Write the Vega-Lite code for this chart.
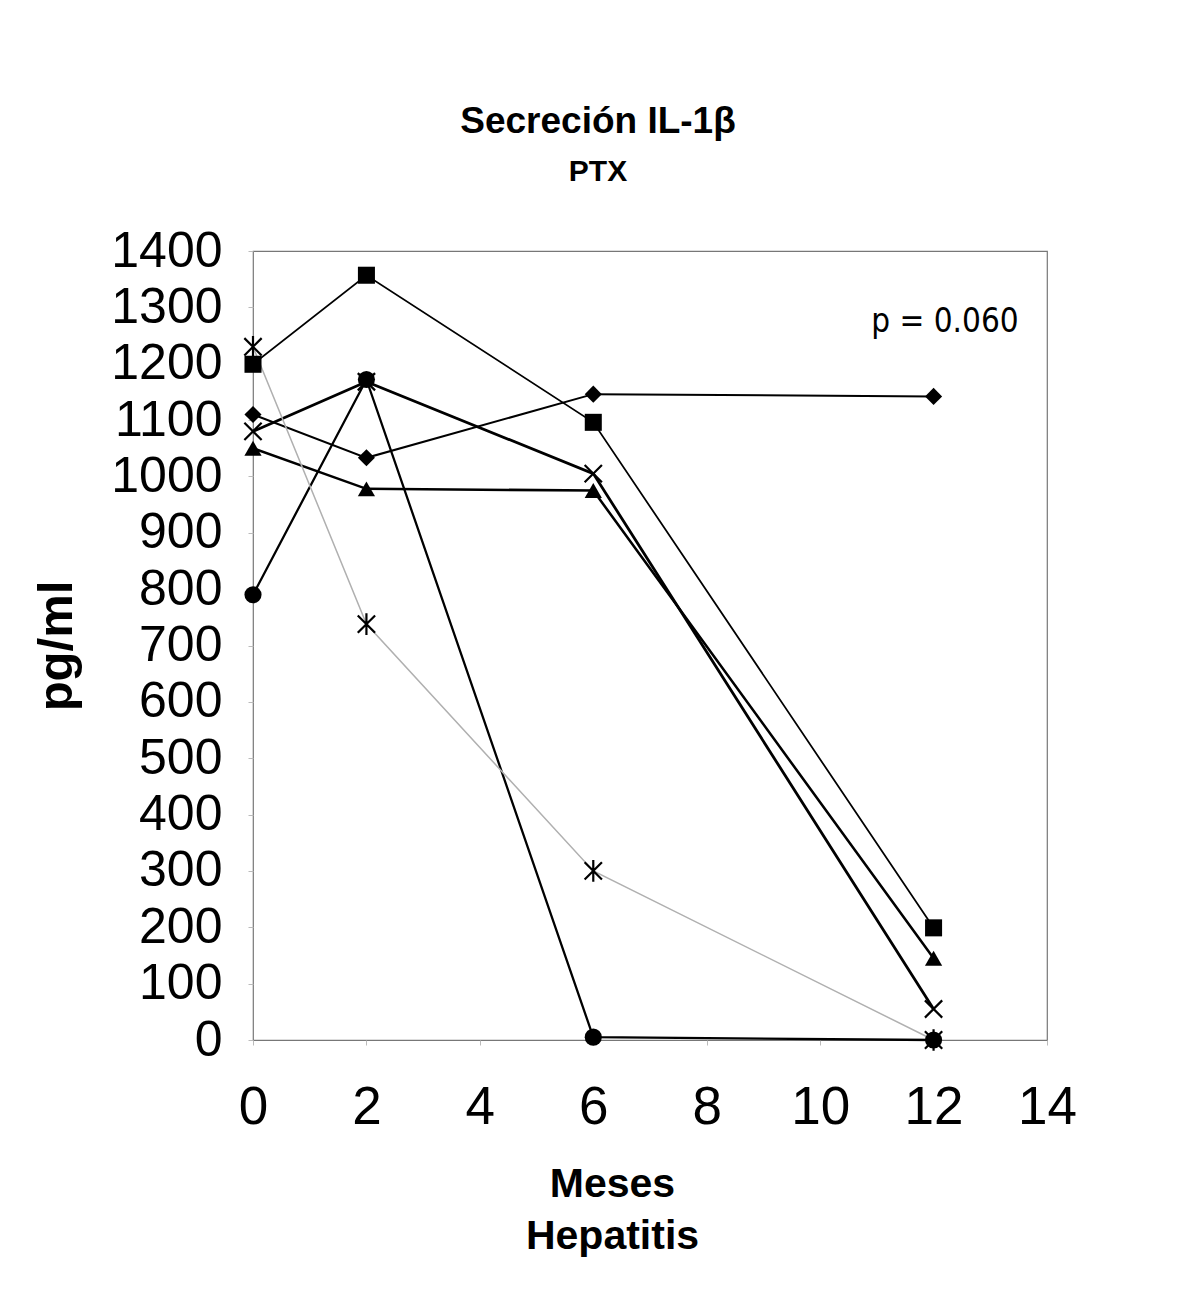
{
  "$schema": "https://vega.github.io/schema/vega-lite/v6.json",
  "width": 794,
  "height": 789,
  "autosize": "none",
  "padding": {"left": 253, "top": 251, "right": 135, "bottom": 249},
  "background": "white",
  "title": {
    "text": "Secreción IL-1β",
    "subtitle": "PTX",
    "font": "Liberation Sans",
    "fontSize": 37,
    "fontWeight": "bold",
    "color": "black",
    "subtitleFont": "Liberation Sans",
    "subtitleFontSize": 30,
    "subtitleFontWeight": "bold",
    "subtitleColor": "black",
    "subtitlePadding": 16,
    "anchor": "middle",
    "dx": -52,
    "offset": 38
  },
  "config": {
    "view": {"stroke": "#777", "strokeWidth": 1.2},
    "axis": {
      "domain": false,
      "grid": false,
      "labelFont": "Liberation Sans",
      "labelColor": "black",
      "labelOverlap": false,
      "labelFlush": false,
      "labelBound": false,
      "tickColor": "#bbb",
      "tickSize": 5,
      "titleFont": "Liberation Sans",
      "titleFontWeight": "bold",
      "titleColor": "black"
    }
  },
  "datasets": {
    "series": [
      {"serie": "cuadrado", "mes": 0, "valor": 1199},
      {"serie": "cuadrado", "mes": 2, "valor": 1357},
      {"serie": "cuadrado", "mes": 6, "valor": 1096},
      {"serie": "cuadrado", "mes": 12, "valor": 199},
      {"serie": "rombo", "mes": 0, "valor": 1110},
      {"serie": "rombo", "mes": 2, "valor": 1033},
      {"serie": "rombo", "mes": 6, "valor": 1146},
      {"serie": "rombo", "mes": 12, "valor": 1142},
      {"serie": "circulo", "mes": 0, "valor": 790},
      {"serie": "circulo", "mes": 2, "valor": 1172},
      {"serie": "circulo", "mes": 6, "valor": 5},
      {"serie": "circulo", "mes": 12, "valor": 0},
      {"serie": "triangulo", "mes": 0, "valor": 1050},
      {"serie": "triangulo", "mes": 2, "valor": 978},
      {"serie": "triangulo", "mes": 6, "valor": 975},
      {"serie": "triangulo", "mes": 12, "valor": 145},
      {"serie": "equis", "mes": 0, "valor": 1080},
      {"serie": "equis", "mes": 2, "valor": 1168},
      {"serie": "equis", "mes": 6, "valor": 1005},
      {"serie": "equis", "mes": 12, "valor": 55},
      {"serie": "asterisco", "mes": 0, "valor": 1230},
      {"serie": "asterisco", "mes": 2, "valor": 738},
      {"serie": "asterisco", "mes": 6, "valor": 300},
      {"serie": "asterisco", "mes": 12, "valor": 0}
    ],
    "nota": [
      {"texto": "p = 0.060", "mes": 12.2, "valor": 1256}
    ]
  },
  "data": {"name": "series"},
  "layer": [
    {
      "mark": {"type": "line"},
      "encoding": {
        "x": {
          "field": "mes", "type": "quantitative",
          "scale": {"domain": [0, 14], "nice": false},
          "axis": {
            "values": [0, 2, 4, 6, 8, 10, 12, 14],
            "format": "d",
            "labelFontSize": 53,
            "labelPadding": 36,
            "title": ["Meses", "Hepatitis"],
            "titleFontSize": 41,
            "titleLineHeight": 52,
            "titlePadding": 30,
            "titleX": 359
          }
        },
        "y": {
          "field": "valor", "type": "quantitative",
          "scale": {"domain": [0, 1400], "nice": false},
          "axis": {
            "values": [0, 100, 200, 300, 400, 500, 600, 700, 800, 900, 1000, 1100, 1200, 1300, 1400],
            "format": "d",
            "labelFontSize": 50,
            "labelPadding": 26,
            "title": "pg/ml",
            "titleFontSize": 49,
            "titlePadding": 29
          }
        },
        "color": {
          "field": "serie", "type": "nominal",
          "scale": {
            "domain": ["asterisco", "cuadrado", "rombo", "circulo", "triangulo", "equis"],
            "range": ["#b0b0b0", "black", "black", "black", "black", "black"]
          },
          "legend": null
        },
        "strokeWidth": {
          "field": "serie", "type": "nominal",
          "scale": {
            "domain": ["asterisco", "cuadrado", "rombo", "circulo", "triangulo", "equis"],
            "range": [1.5, 2.8, 2.8, 2.8, 2.8, 2.8]
          },
          "legend": null
        }
      }
    },
    {
      "transform": [{"filter": "datum.serie != 'equis' && datum.serie != 'asterisco'"}],
      "mark": {"type": "point", "filled": true, "opacity": 1, "color": "black"},
      "encoding": {
        "x": {"field": "mes", "type": "quantitative"},
        "y": {"field": "valor", "type": "quantitative"},
        "shape": {
          "field": "serie", "type": "nominal",
          "scale": {
            "domain": ["cuadrado", "rombo", "circulo", "triangulo", "equis", "asterisco"],
            "range": ["square", "diamond", "circle", "triangle-up", "M-1,-1L1,1M-1,1L1,-1", "M-1,-1L1,1M-1,1L1,-1M0,-1.25L0,1.25"]
          },
          "legend": null
        },
        "size": {
          "field": "serie", "type": "nominal",
          "scale": {
            "domain": ["cuadrado", "rombo", "circulo", "triangulo", "equis", "asterisco"],
            "range": [290, 300, 320, 340, 220, 190]
          },
          "legend": null
        }
      }
    },
    {
      "transform": [{"filter": "datum.serie == 'equis' || datum.serie == 'asterisco'"}],
      "mark": {"type": "point", "filled": false, "opacity": 1, "color": "black", "strokeWidth": 2.2},
      "encoding": {
        "x": {"field": "mes", "type": "quantitative"},
        "y": {"field": "valor", "type": "quantitative"},
        "shape": {
          "field": "serie", "type": "nominal",
          "scale": {
            "domain": ["cuadrado", "rombo", "circulo", "triangulo", "equis", "asterisco"],
            "range": ["square", "diamond", "circle", "triangle-up", "M-1,-1L1,1M-1,1L1,-1", "M-1,-1L1,1M-1,1L1,-1M0,-1.25L0,1.25"]
          },
          "legend": null
        },
        "size": {
          "field": "serie", "type": "nominal",
          "scale": {
            "domain": ["cuadrado", "rombo", "circulo", "triangulo", "equis", "asterisco"],
            "range": [290, 300, 320, 340, 220, 190]
          },
          "legend": null
        }
      }
    },
    {
      "data": {"name": "nota"},
      "mark": {
        "type": "text",
        "font": "DejaVu Sans Condensed, sans-serif",
        "fontSize": 33,
        "align": "center",
        "baseline": "alphabetic",
        "color": "black"
      },
      "encoding": {
        "x": {"field": "mes", "type": "quantitative"},
        "y": {"field": "valor", "type": "quantitative"},
        "text": {"field": "texto"}
      }
    }
  ]
}
